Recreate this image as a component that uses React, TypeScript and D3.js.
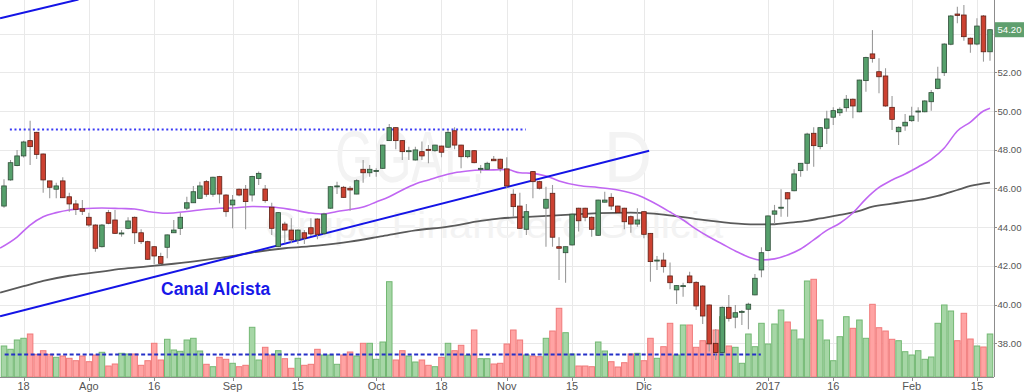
import React from 'react';
import * as d3 from 'd3';

// ---------- DATA ----------
const opens = [45.09,46.44,47.18,47.68,48.47,48.90,47.78,46.39,45.96,46.39,45.57,45.20,44.95,44.51,44.11,42.99,44.75,44.37,43.66,43.94,44.51,43.71,43.25,42.99,42.48,42.96,43.71,43.94,44.98,45.26,45.49,46.35,45.70,46.61,45.66,45.15,45.96,45.96,45.66,46.52,45.97,45.03,42.99,44.16,43.85,43.34,43.71,43.97,44.42,43.68,44.98,46.10,46.06,46.01,45.71,46.99,46.81,46.90,47.04,48.47,49.14,48.47,47.90,47.47,47.90,48.02,47.95,48.19,48.13,48.98,48.24,47.64,47.95,47.02,46.99,47.51,47.51,47.01,45.70,45.09,43.89,46.87,46.35,44.98,45.75,42.99,42.68,43.08,44.98,44.98,44.51,43.58,45.29,45.54,45.09,44.98,44.54,44.16,44.80,43.68,42.28,42.30,41.48,40.76,40.95,41.48,41.15,40.96,39.98,38.00,37.52,39.86,39.35,39.62,39.76,40.50,41.79,42.79,44.67,44.98,45.78,45.88,46.92,47.30,48.85,48.16,49.11,49.68,49.91,50.17,50.61,49.96,51.57,52.95,52.03,51.81,50.19,48.93,49.23,49.50,49.98,49.96,50.48,51.17,51.98,53.45,55.01,54.96,53.76,53.46,54.91,53.06];
const highs = [46.47,47.47,47.99,48.47,49.50,48.93,47.80,46.40,46.30,46.58,45.78,45.40,45.40,44.75,44.15,44.16,44.89,44.89,43.85,44.51,44.55,43.89,43.30,43.02,42.68,43.62,44.37,44.73,45.57,46.13,46.35,46.44,46.60,46.65,45.70,45.66,46.00,46.18,46.65,46.87,46.18,45.26,44.78,44.28,44.46,43.88,43.85,44.46,44.46,44.75,46.13,46.35,46.13,46.13,46.47,47.47,47.21,47.04,48.26,49.33,49.16,48.50,48.16,48.16,48.42,48.24,48.26,48.21,49.02,49.16,48.26,47.99,47.99,47.21,47.38,47.68,47.53,47.61,45.96,45.78,45.20,46.90,46.40,46.09,46.18,43.48,43.00,44.70,45.00,45.00,44.55,45.42,45.83,45.75,45.10,45.00,44.60,44.98,44.82,43.70,42.51,42.68,42.17,41.00,41.13,41.70,41.20,41.00,40.00,38.74,39.90,40.50,39.98,39.72,40.10,41.58,42.96,44.60,45.15,45.96,45.80,46.99,47.32,48.88,49.16,49.16,50.02,50.19,50.19,50.83,50.65,51.62,52.80,54.18,52.72,52.21,50.78,49.20,49.85,50.22,50.19,50.55,51.09,52.29,53.50,54.96,55.39,55.48,53.80,54.79,54.96,54.22];
const lows = [45.00,46.40,47.15,47.60,47.21,47.52,45.78,45.49,45.49,45.50,44.80,44.63,44.63,44.02,42.73,42.95,44.15,43.65,43.51,43.89,43.13,43.13,42.30,42.10,42.07,42.39,43.70,43.60,44.89,45.25,45.45,45.57,45.57,45.23,44.54,43.94,45.60,43.89,45.32,46.18,45.26,43.60,42.96,43.17,43.17,43.13,43.13,43.54,43.37,43.60,44.95,45.71,45.52,44.85,45.70,46.30,46.61,46.61,47.00,48.45,48.02,47.47,47.47,47.45,47.47,47.30,47.90,47.61,48.10,48.02,47.04,47.56,47.30,46.78,46.95,47.42,46.87,46.01,44.54,43.90,43.60,45.49,45.95,42.99,42.99,41.27,41.13,43.05,43.77,44.30,43.51,43.55,45.28,44.89,44.70,43.89,43.71,44.02,43.43,41.18,41.79,41.65,40.79,40.03,40.41,41.10,39.72,39.00,37.57,37.14,37.50,39.12,38.78,38.95,38.73,40.48,41.41,42.75,44.16,44.54,44.54,45.85,46.61,46.92,47.12,48.02,48.30,49.28,49.74,49.96,49.62,49.94,51.00,52.50,50.92,50.22,49.02,48.24,48.98,49.45,49.45,49.94,50.02,51.12,51.81,53.40,54.53,53.63,53.01,53.40,52.55,52.60];
const closes = [46.13,47.33,47.68,48.40,48.16,47.76,46.44,46.06,46.13,45.52,45.20,44.92,44.82,44.11,42.91,44.11,44.20,43.68,43.70,44.32,43.71,43.25,42.34,42.51,42.13,43.60,43.85,44.51,45.26,45.83,46.13,45.70,46.58,45.71,44.80,45.40,45.66,45.32,46.62,46.78,45.37,43.94,44.75,43.85,43.34,43.85,43.43,43.65,43.63,44.68,46.09,46.13,45.54,45.92,46.40,46.81,46.99,46.93,48.24,49.14,48.47,47.90,47.95,47.99,47.68,47.99,48.24,47.87,48.90,48.24,47.64,47.95,47.33,47.04,47.30,47.43,47.04,46.13,45.06,43.94,44.80,46.35,46.01,45.44,43.48,42.91,42.99,44.67,44.33,44.51,43.89,45.40,45.40,45.09,44.75,44.28,44.16,44.37,43.63,42.22,42.30,41.96,41.13,40.98,40.98,41.13,39.93,39.41,37.97,37.52,39.86,39.29,39.58,39.65,40.02,41.36,42.68,44.58,44.84,45.03,45.46,46.75,47.30,48.81,48.21,49.14,49.59,50.02,50.09,50.61,50.26,51.60,52.77,52.72,51.77,50.26,49.57,49.16,49.42,49.74,50.00,50.52,50.95,51.65,53.46,54.91,54.94,53.84,53.46,54.39,53.06,54.20];
// volume, millions
const volumes = [3.1,2.77,3.7,3.87,4.3,2.27,2.63,2.27,1.97,2.1,1.87,1.63,2.1,1.53,2.2,2.47,1.1,1.3,2.37,2.3,2.3,1.17,1.63,3.37,1.7,3.77,2.7,2.57,3.7,3.87,2.6,1.27,1.03,1.97,1.77,1.37,1.03,1.17,4.97,1.7,2.97,2.2,2.63,1.83,0.87,1.87,1.17,1.27,2.77,2.2,2.2,1.27,2.2,2.5,2.1,3.37,3.37,1.77,3.5,9.53,1.7,2.63,2.1,1.5,1.7,1.17,1.03,1.97,3.37,2.63,3.17,2.17,4.7,1.83,1.83,1.3,1.37,3.3,4.7,3.7,2.2,2.1,2.03,3.87,4.6,6.87,4.43,2.3,1.1,1.1,1.03,3.5,2.6,1.53,1.0,1.43,2.3,2.37,1.63,3.87,1.87,3.03,5.37,2.2,5.2,5.2,2.97,3.63,3.37,4.7,6.03,3.1,2.97,1.37,4.3,3.03,5.37,3.3,5.3,6.7,5.5,4.7,3.8,9.6,9.77,5.7,3.7,1.63,4.03,6.03,4.87,5.7,3.87,7.27,4.93,4.6,3.77,3.63,2.53,2.2,2.63,1.77,2.0,5.37,7.2,6.6,3.63,6.37,3.8,3.1,3.0,4.3];

const tickIdx = [3, 13, 23, 35, 45, 57, 67, 77, 87, 98, 117, 127, 139, 149];
const tickLabels = ['18', 'Ago', '16', 'Sep', '15', 'Oct', '18', 'Nov', '15', 'Dic', '2017', '16', 'Feb', '15'];
const priceTicks = [38, 40, 42, 44, 46, 48, 50, 52, 54];
const priceLabels = [38, 40, 42, 44, 46, 48, 50, 52];

const maFastIdx = [-0.6,2,4,6,8,10,12,15,18,20,22,25,28,30,33,35,38,41,44,47,49,51,53,55,57,59,61,63,65,67,69,71,73,75,77,79,81,83,85,88,91,94,97,99,102,104,106,108,110,112,114,116,118,120,122,124,126,128,130,132,134,136,138,140,142,144,146,148,150,151];
const maFastVal = [42.92,43.49,44.11,44.54,44.75,44.89,44.95,44.99,44.96,44.94,44.81,44.72,44.81,44.89,44.98,44.99,45.07,45.04,44.91,44.73,44.68,44.81,44.91,45.04,45.30,45.57,45.92,46.23,46.44,46.64,46.81,46.90,46.95,46.96,46.98,46.81,46.78,46.64,46.39,46.15,46.05,45.92,45.66,45.35,44.78,44.37,43.90,43.49,43.13,42.77,42.46,42.30,42.36,42.56,42.87,43.34,43.83,44.20,44.73,45.46,46.05,46.44,46.75,47.11,47.50,48.09,48.97,49.43,50.00,50.14];
const maSlowIdx = [-0.6,3,6,10,14,18,22,26,30,34,38,43,48,53,58,63,68,73,76,81,86,91,96,101,106,111,115,118,120,123,125,128,131,133,136,138,141,143,146,148,151];
const maSlowVal = [40.62,40.95,41.22,41.49,41.66,41.84,41.97,42.11,42.27,42.46,42.69,42.91,43.05,43.25,43.54,43.83,44.03,44.32,44.45,44.54,44.63,44.72,44.75,44.65,44.42,44.22,44.14,44.15,44.22,44.33,44.45,44.63,44.84,45.06,45.21,45.32,45.46,45.61,45.92,46.13,46.30];

// drawn studies (index, price)
const channelLowIdx = [-0.6, 98.8];
const channelLowVal = [39.4, 47.95];
const channelHighIdx = [-0.6, 11.4];
const channelHighVal = [54.79, 55.76];
const resistIdx = [0.9, 79.9];
const resistVal = 49.05;
const volAvgIdx = [0.1, 115.9];
const volAvgVal = 2.25;
const lastPrice = 54.2;
const channelLabel = 'Canal Alcista';

export default function App() {
  const W = 1024, H = 392, plotR = 994, plotB = 377;
  const x = d3.scaleLinear().domain([0, 151]).range([4, 990]);
  const y = d3.scaleLinear().domain([38, 52]).range([343.3, 72.3]);
  const yv = d3.scaleLinear().domain([0, 10]).range([377, 277]);
  const step = x(1) - x(0);
  const bodyW = 4.6;
  const font = "'Liberation Sans', Arial, sans-serif";

  const fastLine = d3.line<number>().x((_, k) => x(maFastIdx[k])).y(d => y(d)).curve(d3.curveMonotoneX);
  const slowLine = d3.line<number>().x((_, k) => x(maSlowIdx[k])).y(d => y(d)).curve(d3.curveMonotoneX);

  return (
    <svg width={W} height={H} style={{ position: 'absolute', left: 0, top: 0, background: '#fff' }}>
      <defs>
        <clipPath id="plot"><rect x={0} y={0} width={plotR} height={plotB} /></clipPath>
      </defs>
      <rect x={0} y={0} width={W} height={H} fill="#fff" />
      <g clipPath="url(#plot)">
        {priceTicks.map(p => (
          <line key={'h' + p} x1={0} x2={plotR} y1={Math.round(y(p)) + 0.5} y2={Math.round(y(p)) + 0.5} stroke="#e9e9e9" strokeWidth={1} />
        ))}
        {tickIdx.map((t, k) => (
          <line key={'v' + k} x1={Math.round(x(t)) + 0.5} x2={Math.round(x(t)) + 0.5} y1={0} y2={plotB} stroke="#e9e9e9" strokeWidth={1} />
        ))}
        {/* watermark */}
        <text x={335} y={182} fontFamily={font} fontSize={72} fill="#f3f3f3" textLength={150} lengthAdjust="spacingAndGlyphs">GGAL,</text>
        <text x={604} y={182} fontFamily={font} fontSize={72} fill="#f3f3f3" textLength={48} lengthAdjust="spacingAndGlyphs">D</text>
        <text x={265} y={238} fontFamily={font} fontSize={36} fill="#f3f3f3" textLength={458} lengthAdjust="spacingAndGlyphs">Grupo Financiero Galicia</text>

        {/* volume */}
        {volumes.map((v, i) => {
          const up = closes[i] >= opens[i];
          return (
            <rect key={'vol' + i} x={x(i) - step / 2 + 0.5} y={yv(v)} width={step - 1} height={plotB - yv(v)}
              fill={up ? '#a6d6a6' : '#ffa3a3'} stroke={up ? '#73b873' : '#f07a7a'} strokeWidth={1} />
          );
        })}
        <line x1={x(volAvgIdx[0])} x2={x(volAvgIdx[1])} y1={yv(volAvgVal)} y2={yv(volAvgVal)} stroke="#2530c8" strokeWidth={2} strokeDasharray="4,2.5" />

        {/* moving averages */}
        <path d={slowLine(maSlowVal) || ''} fill="none" stroke="#5a5a5a" strokeWidth={1.8} />
        <path d={fastLine(maFastVal) || ''} fill="none" stroke="#c066f2" strokeWidth={1.6} />

        {/* drawings */}
        <line x1={x(channelLowIdx[0])} y1={y(channelLowVal[0])} x2={x(channelLowIdx[1])} y2={y(channelLowVal[1])} stroke="#1414e6" strokeWidth={2} />
        <line x1={x(channelHighIdx[0])} y1={y(channelHighVal[0])} x2={x(channelHighIdx[1])} y2={y(channelHighVal[1])} stroke="#1414e6" strokeWidth={2} />
        <line x1={x(resistIdx[0])} x2={x(resistIdx[1])} y1={y(resistVal)} y2={y(resistVal)} stroke="#3a3af5" strokeWidth={2} strokeDasharray="2,2.6" />

        {/* candles */}
        {opens.map((o, i) => {
          const c = closes[i];
          const up = c >= o;
          const top = y(Math.max(o, c));
          const bot = y(Math.min(o, c));
          const cx = x(i);
          return (
            <g key={'c' + i}>
              <line x1={cx} x2={cx} y1={y(highs[i])} y2={y(lows[i])} stroke="#9b9b9b" strokeWidth={1.1} />
              <rect x={cx - bodyW / 2} y={top} width={bodyW} height={Math.max(1, bot - top)}
                fill={up ? '#56a06c' : '#cc4131'} stroke={up ? '#2f4d38' : '#5e2016'} strokeWidth={0.8} />
            </g>
          );
        })}
        <text x={161} y={295} fontFamily={font} fontWeight="bold" fontSize={17.5} fill="#1818e8">{channelLabel}</text>
      </g>

      {/* axes */}
      <line x1={plotR + 0.5} x2={plotR + 0.5} y1={0} y2={plotB} stroke="#8c8c8c" strokeWidth={1} />
      <line x1={0} x2={plotR} y1={plotB + 0.5} y2={plotB + 0.5} stroke="#8c8c8c" strokeWidth={1} />
      {priceTicks.map(p => (
        <line key={'ptk' + p} x1={plotR} x2={plotR + 3} y1={Math.round(y(p)) + 0.5} y2={Math.round(y(p)) + 0.5} stroke="#8c8c8c" />
      ))}
      {priceLabels.map(p => (
        <text key={'pt' + p} x={997.5} y={y(p) + 3.5} fontFamily={font} fontSize={9.6} fill="#555">{p.toFixed(2)}</text>
      ))}
      {tickIdx.map((t, k) => (
        <g key={'xt' + k}>
          <line x1={Math.round(x(t)) + 0.5} x2={Math.round(x(t)) + 0.5} y1={plotB} y2={plotB + 4} stroke="#8c8c8c" />
          <text x={x(t)} y={390} textAnchor="middle" fontFamily={font} fontSize={11} fill="#555">{tickLabels[k]}</text>
        </g>
      ))}
      <rect x={995} y={y(lastPrice) - 7.5} width={29} height={15} fill="#5f9f6e" />
      <text x={997.5} y={y(lastPrice) + 3.5} fontFamily={font} fontSize={9.6} fill="#fff">{lastPrice.toFixed(2)}</text>
    </svg>
  );
}
